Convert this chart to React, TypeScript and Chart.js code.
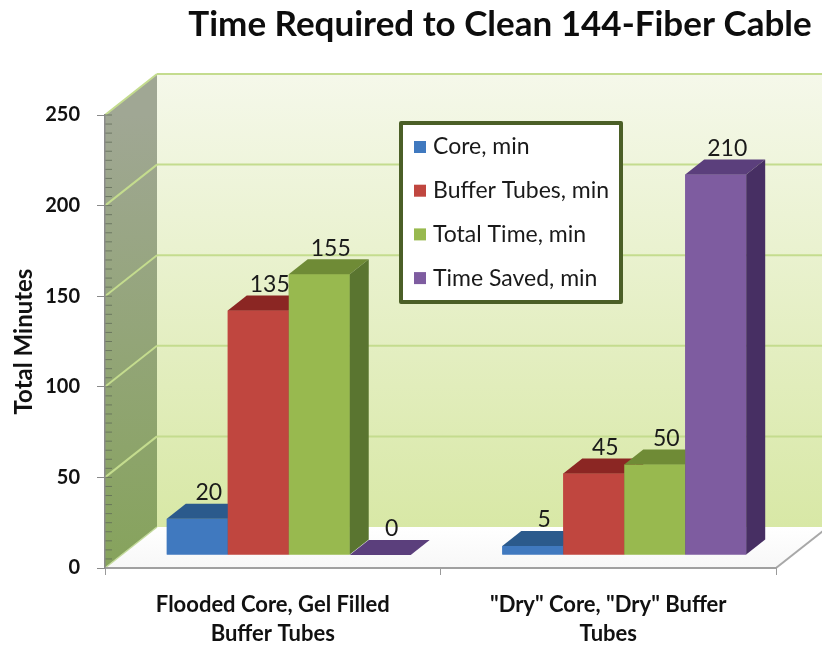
import React, { useEffect, useRef } from 'react';
import { Chart, registerables } from 'chart.js';

Chart.register(...registerables);

// ---- data ----
const TITLE = 'Time Required to Clean 144-Fiber Cable';
const Y_TITLE = 'Total Minutes';
const CATEGORIES = [
  ['Flooded Core, Gel Filled', 'Buffer Tubes'],
  ['"Dry" Core, "Dry" Buffer', 'Tubes'],
];
const SERIES_NAMES = ['Core, min', 'Buffer Tubes, min', 'Total Time, min', 'Time Saved, min'];
const CORE_MIN = [20, 5];
const BUFFER_TUBES_MIN = [135, 45];
const TOTAL_TIME_MIN = [155, 50];
const TIME_SAVED_MIN = [0, 210];
const Y_MIN = 0;
const Y_MAX = 250;
const Y_STEP = 50;
const Y_MINOR_STEP = 5;

// ---- styles ----
const FRONT = ['#4079bf', '#c0463f', '#98b94f', '#7e5ca0'];
const TOPC = ['#2b5a8c', '#8b2623', '#6f8b36', '#5b3f7c'];
const SIDEC = ['#28507c', '#7d2220', '#5a7530', '#472f63'];
const DEPTH = { x: 52, y: -41 };
const BAR_SHIFT = { x: 16, y: -13 };
const BAR_DEPTH = { x: 19, y: -15 };
const FONT = 'Lato';

function poly(ctx: CanvasRenderingContext2D, pts: number[][], fill: any) {
  ctx.beginPath();
  ctx.moveTo(pts[0][0], pts[0][1]);
  for (let i = 1; i < pts.length; i++) ctx.lineTo(pts[i][0], pts[i][1]);
  ctx.closePath();
  ctx.fillStyle = fill;
  ctx.fill();
}

function line(ctx: CanvasRenderingContext2D, x1: number, y1: number, x2: number, y2: number, color: string, w: number) {
  ctx.beginPath();
  ctx.moveTo(x1, y1);
  ctx.lineTo(x2, y2);
  ctx.strokeStyle = color;
  ctx.lineWidth = w;
  ctx.stroke();
}

const threeD = {
  id: 'threeD',
  beforeDraw(chart: any) {
    const { ctx, chartArea: a } = chart;
    const ys = chart.scales.y;
    ctx.save();
    // back wall
    const g = ctx.createLinearGradient(0, a.top + DEPTH.y, 0, a.bottom + DEPTH.y);
    g.addColorStop(0, '#f5f8ea');
    g.addColorStop(1, '#d8e8a6');
    ctx.fillStyle = g;
    ctx.fillRect(a.left + DEPTH.x, a.top + DEPTH.y, a.right - a.left, a.bottom - a.top);
    // left wall
    const g2 = ctx.createLinearGradient(0, a.top, 0, a.bottom);
    g2.addColorStop(0, '#a0a794');
    g2.addColorStop(1, '#86a35c');
    poly(ctx, [
      [a.left, a.top], [a.left + DEPTH.x, a.top + DEPTH.y],
      [a.left + DEPTH.x, a.bottom + DEPTH.y], [a.left, a.bottom],
    ], g2);
    // floor
    const g3 = ctx.createLinearGradient(0, a.bottom + DEPTH.y, 0, a.bottom);
    g3.addColorStop(0, '#ffffff');
    g3.addColorStop(1, '#f7f7f7');
    poly(ctx, [
      [a.left, a.bottom], [a.right, a.bottom],
      [a.right + DEPTH.x, a.bottom + DEPTH.y], [a.left + DEPTH.x, a.bottom + DEPTH.y],
    ], g3);
    line(ctx, a.right, a.bottom, a.right + DEPTH.x, a.bottom + DEPTH.y, '#a8a8a8', 2);
    // gridlines on walls
    ys.ticks.forEach((t: any) => {
      const py = ys.getPixelForValue(t.value);
      if (t.value === Y_MIN) {
        line(ctx, a.left, py, a.left + DEPTH.x, py + DEPTH.y, '#c2d99a', 1.5);
        return;
      }
      line(ctx, a.left + DEPTH.x, py + DEPTH.y, a.right + DEPTH.x, py + DEPTH.y, '#c4dc8e', 2);
      line(ctx, a.left, py, a.left + DEPTH.x, py + DEPTH.y, '#c4dc8e', 2);
    });
    // minor ticks on the wall edge
    for (let v = Y_MIN; v <= Y_MAX; v += Y_MINOR_STEP) {
      const py = ys.getPixelForValue(v);
      line(ctx, a.left, py, a.left + 7, py, 'rgba(95,105,85,0.75)', 1);
    }
    ctx.restore();
  },
  beforeDatasetsDraw(chart: any) {
    chart.ctx.save();
    chart.ctx.translate(BAR_SHIFT.x, BAR_SHIFT.y);
  },
  afterDatasetsDraw(chart: any) {
    const ctx = chart.ctx;
    const n = chart.data.labels.length;
    for (let j = 0; j < n; j++) {
      chart.data.datasets.forEach((ds: any, i: number) => {
        const el = chart.getDatasetMeta(i).data[j];
        const { x, y, base, width } = el.getProps(['x', 'y', 'base', 'width'], true);
        const xl = x - width / 2;
        const xr = x + width / 2;
        ctx.fillStyle = FRONT[i];
        ctx.fillRect(xl, y, width, base - y);
        poly(ctx, [[xl, y], [xr, y], [xr + BAR_DEPTH.x, y + BAR_DEPTH.y], [xl + BAR_DEPTH.x, y + BAR_DEPTH.y]], TOPC[i]);
        poly(ctx, [[xr, y], [xr + BAR_DEPTH.x, y + BAR_DEPTH.y], [xr + BAR_DEPTH.x, base + BAR_DEPTH.y], [xr, base]], SIDEC[i]);
      });
    }
    // value labels
    ctx.font = `23px ${FONT}`;
    ctx.fillStyle = '#1a1a1a';
    ctx.textAlign = 'center';
    ctx.textBaseline = 'middle';
    chart.data.datasets.forEach((ds: any, i: number) => {
      chart.getDatasetMeta(i).data.forEach((el: any, j: number) => {
        const { x, y } = el.getProps(['x', 'y'], true);
        ctx.fillText(String(ds.data[j]), x + BAR_DEPTH.x / 2 + 2, y - 26);
      });
    });
    ctx.restore();
  },
  afterDraw(chart: any) {
    const ctx = chart.ctx;
    ctx.save();
    // title
    ctx.font = `bold 35px ${FONT}`;
    ctx.fillStyle = '#0d0d0d';
    ctx.textAlign = 'center';
    ctx.textBaseline = 'alphabetic';
    ctx.fillText(TITLE, 500, 36);
    // legend
    const lx = 401, ly = 123, lw = 220, lh = 179;
    ctx.fillStyle = '#ffffff';
    ctx.fillRect(lx, ly, lw, lh);
    ctx.strokeStyle = '#4b5f27';
    ctx.lineWidth = 4;
    ctx.lineJoin = 'round';
    ctx.strokeRect(lx, ly, lw, lh);
    ctx.font = `23px ${FONT}`;
    ctx.textAlign = 'left';
    ctx.textBaseline = 'middle';
    chart.data.datasets.forEach((ds: any, i: number) => {
      const cy = 147 + i * 43.7;
      ctx.fillStyle = FRONT[i];
      ctx.fillRect(414, cy - 6, 12, 12);
      ctx.fillStyle = '#1a1a1a';
      ctx.fillText(ds.label, 433, cy);
    });
    ctx.restore();
  },
};

export default function App() {
  const ref = useRef<HTMLCanvasElement>(null);
  useEffect(() => {
    document.body.style.margin = '0';
    const series = [CORE_MIN, BUFFER_TUBES_MIN, TOTAL_TIME_MIN, TIME_SAVED_MIN];
    const chart = new Chart(ref.current!, {
      type: 'bar',
      data: {
        labels: CATEGORIES,
        datasets: series.map((d, i) => ({
          label: SERIES_NAMES[i],
          data: d,
          backgroundColor: FRONT[i],
          borderWidth: 0,
          categoryPercentage: 0.727,
          barPercentage: 1.0,
        })),
      },
      options: {
        responsive: false,
        animation: false,
        events: [],
        layout: { padding: { top: 115, left: 0, right: 46, bottom: 0 } },
        plugins: { legend: { display: false }, title: { display: false }, tooltip: { enabled: false } },
        scales: {
          x: {
            afterFit: (s: any) => { s.height = 80; },
            grid: { offset: true, drawOnChartArea: false, drawTicks: true, tickLength: 7, color: '#9a9a9a' },
            border: { display: true, color: '#a0a0a0', width: 2 },
            ticks: { padding: 16, color: '#111', font: { family: FONT, size: 22, weight: 'bold', lineHeight: 1.3 } },
          },
          y: {
            min: Y_MIN,
            max: Y_MAX,
            afterFit: (s: any) => { s.width = 105; },
            grid: { drawOnChartArea: false, drawTicks: true, tickLength: 8, color: '#8a8a8a' },
            border: { display: true, color: '#8a8a8a', width: 1.5 },
            ticks: { stepSize: Y_STEP, padding: 17, color: '#111', font: { family: FONT, size: 20, weight: 'bold' } },
            title: { display: true, text: Y_TITLE, color: '#111', padding: { top: 10, bottom: 0 }, font: { family: FONT, size: 24, weight: 'bold' } },
          },
        },
      },
      plugins: [threeD],
    });
    return () => chart.destroy();
  }, []);
  return <canvas ref={ref} width={822} height={648} style={{ display: 'block' }} />;
}
